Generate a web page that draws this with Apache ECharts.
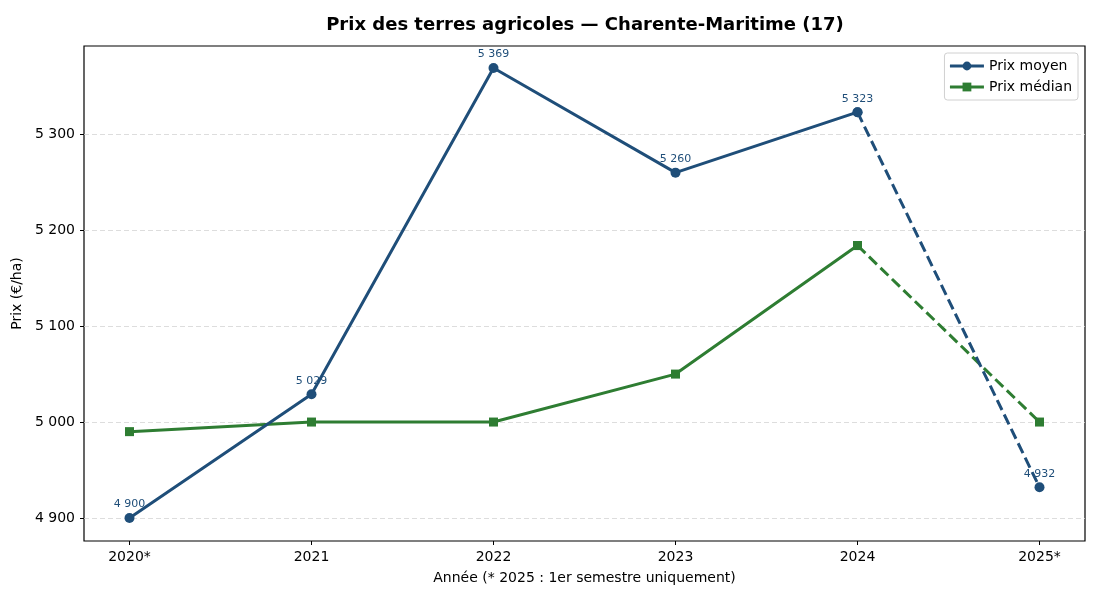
<!DOCTYPE html>
<html><head><meta charset="utf-8">
<script src="https://cdn.jsdelivr.net/npm/echarts@6/dist/echarts.min.js"></script>
<style>html,body{margin:0;padding:0;background:#fff}#c{width:1100px;height:600px}</style>
</head><body><div id="c"></div>
<script>
const categories = ['2020*', '2021', '2022', '2023', '2024', '2025*'];
const prixMoyen = [4900, 5029, 5369, 5260, 5323, 4932];
const prixMedian = [4990, 5000, 5000, 5050, 5184, 5000];
const yTicks = [4900, 5000, 5100, 5200, 5300];

const blue = '#1f4e79', green = '#2e7d32';
const font = 'DejaVu Sans';
const fmt = v => String(Math.round(v)).replace(/\B(?=(\d{3})+(?!\d))/g, ' ');

function pts(arr, from, to) {
  const out = [];
  for (let i = from; i <= to; i++) out.push([i, arr[i]]);
  return out;
}
const last = categories.length - 1;
const xTickVals = categories.map((c, i) => i);

const chart = echarts.init(document.getElementById('c'), null, {renderer: 'canvas'});
chart.setOption({
  animation: false,
  backgroundColor: '#fff',
  textStyle: {fontFamily: font},
  title: {text: 'Prix des terres agricoles — Charente-Maritime (17)', left: 580, top: 11, textAlign: 'center',
    textStyle: {fontFamily: font, fontSize: 18, fontWeight: 'bold', color: '#000'}},
  grid: {left: 84, right: 15, top: 46, bottom: 59, show: true, borderColor: '#000', borderWidth: 1.2, backgroundColor: 'transparent'},
  legend: {
    right: 22, top: 53, orient: 'vertical', itemGap: 7, itemWidth: 34, itemHeight: 11,
    backgroundColor: '#fff', borderColor: '#d0d0d0', borderWidth: 1, borderRadius: 3, padding: [6, 6, 6, 4],
    textStyle: {fontFamily: font, fontSize: 14, color: '#000'},
    lineStyle: {width: 3},
    data: ['Prix moyen', 'Prix médian']
  },
  xAxis: {
    type: 'value', min: -0.25, max: last + 0.25,
    name: 'Année (* 2025 : 1er semestre uniquement)', nameLocation: 'middle', nameGap: 30,
    nameTextStyle: {fontFamily: font, fontSize: 14, color: '#000'},
    axisLine: {show: false, onZero: false},
    axisTick: {show: true, inside: false, length: 4, lineStyle: {color: '#000'}, customValues: xTickVals},
    axisLabel: {color: '#000', fontSize: 14, fontFamily: font, margin: 9, customValues: xTickVals,
      formatter: v => categories[Math.round(v)]},
    splitLine: {show: false}
  },
  yAxis: {
    type: 'value', min: 4876, max: 5392,
    name: 'Prix (€/ha)', nameLocation: 'middle', nameGap: 55, nameRotate: 90,
    nameTextStyle: {fontFamily: font, fontSize: 14, color: '#000'},
    axisLine: {show: false, onZero: false},
    axisTick: {show: true, inside: false, length: 4, lineStyle: {color: '#000'}, customValues: yTicks},
    axisLabel: {color: '#000', fontSize: 14, fontFamily: font, margin: 9, customValues: yTicks, formatter: v => fmt(v)},
    splitLine: {show: true, lineStyle: {color: '#d4d4d4', type: [5, 3], width: 0.8}}
  },
  series: [
    {name: 'Prix moyen', type: 'line', data: pts(prixMoyen, 0, last - 1), symbol: 'circle', symbolSize: 10,
      itemStyle: {color: blue}, lineStyle: {color: blue, width: 3}, z: 4,
      label: {show: true, position: 'top', distance: 3, formatter: p => fmt(p.value[1]), color: blue, fontSize: 11, fontFamily: font}},
    {name: 'Prix moyen', type: 'line', data: pts(prixMoyen, last - 1, last), symbol: 'circle', symbolSize: 10,
      itemStyle: {color: blue}, lineStyle: {color: blue, width: 3, type: [11, 5]}, z: 4,
      label: {show: true, position: 'top', distance: 3, formatter: p => p.dataIndex === 1 ? fmt(p.value[1]) : '', color: blue, fontSize: 11, fontFamily: font}},
    {name: 'Prix médian', type: 'line', data: pts(prixMedian, 0, last - 1), symbol: 'rect', symbolSize: 9,
      itemStyle: {color: green}, lineStyle: {color: green, width: 3}, z: 3},
    {name: 'Prix médian', type: 'line', data: pts(prixMedian, last - 1, last), symbol: 'rect', symbolSize: 9,
      itemStyle: {color: green}, lineStyle: {color: green, width: 3, type: [11, 5]}, z: 3}
  ]
});
</script></body></html>
